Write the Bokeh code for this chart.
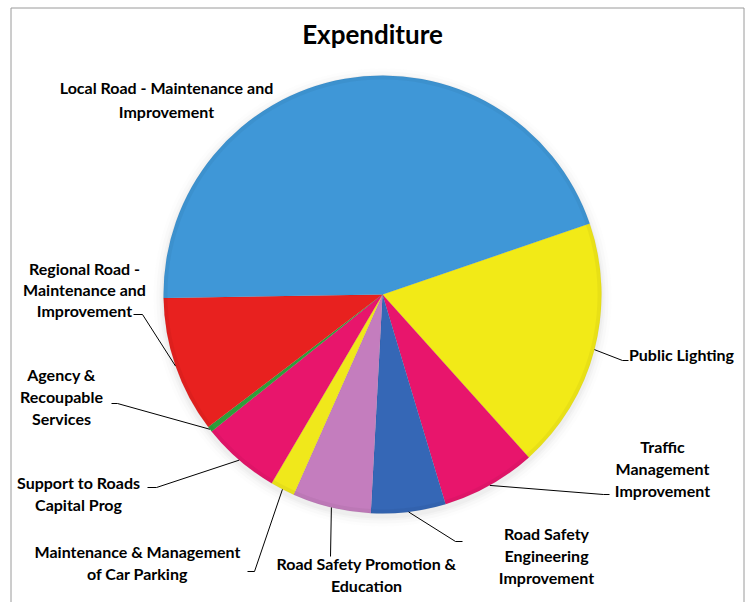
import numpy as np
from bokeh.plotting import figure
from bokeh.models import Range1d
from bokeh.core.properties import value
from bokeh.embed import file_html
from bokeh.resources import INLINE

# ---------------- data (clockwise from the Local/Public Lighting boundary) ----------------
categories = [
    "Public Lighting",
    "Traffic Management Improvement",
    "Road Safety Engineering Improvement",
    "Road Safety Promotion & Education",
    "Maintenance & Management of Car Parking",
    "Support to Roads Capital Prog",
    "Agency & Recoupable Services",
    "Regional Road - Maintenance and Improvement",
    "Local Road - Maintenance and Improvement",
]
shares = [18.6, 7.0, 5.5, 5.8, 1.8, 5.8, 0.4, 10.1, 45.0]
colors = ["#F2EA17", "#E8156C", "#3567B6", "#C47DBE", "#F0E81B",
          "#E8156C", "#2E9E3A", "#E8211F", "#3F97D7"]

# label text lines
label_lines = [
    ["Public Lighting"],
    ["Traffic", "Management", "Improvement"],
    ["Road Safety", "Engineering", "Improvement"],
    ["Road Safety Promotion &", "Education"],
    ["Maintenance & Management", "of Car Parking"],
    ["Support to Roads", "Capital Prog"],
    ["Agency &", "Recoupable", "Services"],
    ["Regional Road -", "Maintenance and", "Improvement"],
    ["Local Road - Maintenance and", "Improvement"],
]

# ---------------- layout (screen pixel coordinates) ----------------
W, H = 750, 602
def Y(sy):
    return H - sy

CX, CY, R = 382, 294, 219
START_DEG = 18.9

label_pos = [  # (center x, first line y, line step)
    (681, 354, 22),
    (662, 446, 22),
    (546, 533, 22),
    (366, 563, 22),
    (137, 551, 22),
    (78, 482, 22),
    (61, 374, 22),
    (84, 268, 21),
    (166, 87, 24),
]
# leader line: label end point and elbow point (None = no leader)
leader_pts = [
    [(628, 360), (622, 360)],
    [(609, 494), (603, 494)],
    [(462, 541), (455, 541)],
    [(330, 556)],
    [(247, 571), (254, 571)],
    [(147, 487), (156, 487)],
    [(111, 403), (117, 403)],
    [(133, 314), (142, 314)],
    None,
]

p = figure(width=W, height=H, output_backend="svg", toolbar_location=None,
           x_range=Range1d(0, W), y_range=Range1d(0, H),
           min_border=0, background_fill_color="white", border_fill_color="white")
p.axis.visible = False
p.grid.visible = False
p.outline_line_color = None

# chart frame
p.multi_line(xs=[[10.5, 10.5], [10.5, 743.5], [743.5, 743.5]],
             ys=[[Y(602), Y(7.5)], [Y(7.5), Y(7.5)], [Y(7.5), Y(602)]],
             line_color="#9a9a9a", line_width=1)

# soft shadow
for k, a in zip([10, 7, 4, 2], [0.02, 0.03, 0.04, 0.05]):
    p.circle(x=[CX], y=[Y(CY + 3)], radius=R + k, fill_color="#808080",
             fill_alpha=a, line_color=None)

total = float(sum(shares))
cum = np.concatenate([[0.0], np.cumsum(shares)]) / total * 360.0
a0 = np.deg2rad(START_DEG - cum[:-1])
a1 = np.deg2rad(START_DEG - cum[1:])
mid = (a0 + a1) / 2.0

p.wedge(x=[CX] * len(shares), y=[Y(CY)] * len(shares), radius=R,
        start_angle=a0, end_angle=a1, direction="clock",
        fill_color=colors, line_color="#000000", line_alpha=0.07, line_width=0.6)

# subtle bevel rim
p.annulus(x=[CX], y=[Y(CY)], inner_radius=R - 4, outer_radius=R,
          fill_color="#000000", fill_alpha=0.04, line_color=None)

# leader lines
xs, ys = [], []
for i, pts in enumerate(leader_pts):
    if pts is None:
        continue
    rx = CX + R * np.cos(mid[i])
    ry = CY - R * np.sin(mid[i])
    lx = [q[0] for q in pts] + [rx]
    ly = [Y(q[1]) for q in pts] + [Y(ry)]
    xs.append(lx)
    ys.append(ly)
p.multi_line(xs=xs, ys=ys, line_color="#000000", line_width=1)

# labels
tx, ty, tt = [], [], []
for lines, (lx, ly, step) in zip(label_lines, label_pos):
    for j, s in enumerate(lines):
        tx.append(lx)
        ty.append(Y(ly + j * step))
        tt.append(s)
p.text(x=tx, y=ty, text=tt, text_align="center", text_baseline="middle",
       text_font=value("Lato"), text_font_style="bold", text_font_size="16px",
       text_color="#000000")

p.text(x=[372], y=[Y(33)], text=["Expenditure"], text_align="center",
       text_baseline="middle", text_font=value("Lato"), text_font_style="bold",
       text_font_size="26px", text_color="#000000")

open("out.html", "w").write(file_html(p, INLINE))
